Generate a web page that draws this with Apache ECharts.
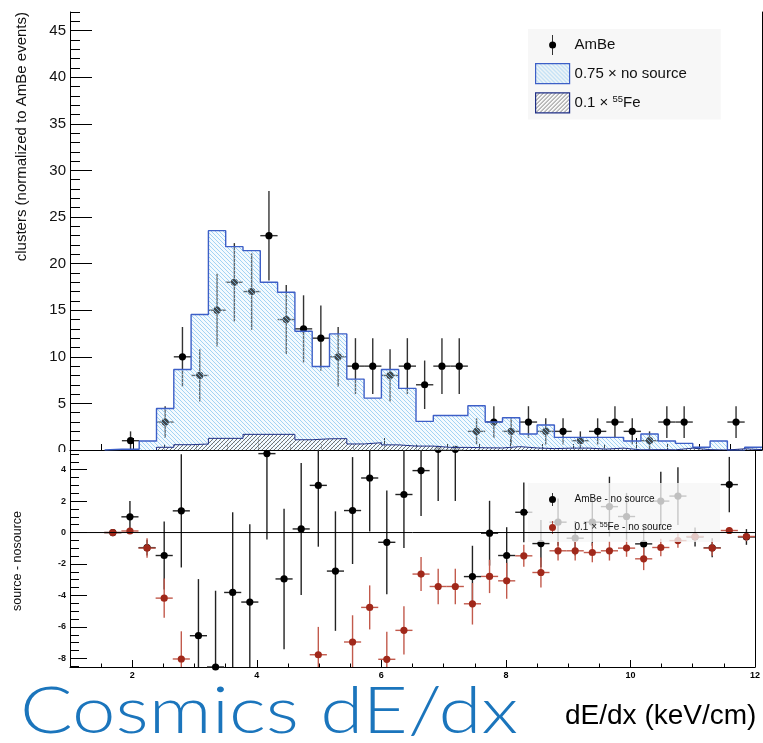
<!DOCTYPE html>
<html>
<head>
<meta charset="utf-8">
<script src="https://cdn.jsdelivr.net/npm/echarts@6/dist/echarts.min.js"></script>
<style>
  html, body { margin: 0; padding: 0; background: #fff; }
  #chart { width: 763px; height: 743px; }
</style>
</head>
<body>
<div id="chart"></div>
<script>
// ---- binning: 40 uniform bins in dE/dx (keV/cm) ----
const X_MIN = 1, X_MAX = 12, N_BINS = 40;
const binWidth = (X_MAX - X_MIN) / N_BINS;
const binCenters = Array.from({ length: N_BINS }, (_, i) => X_MIN + (i + 0.5) * binWidth);
const binEdges = Array.from({ length: N_BINS + 1 }, (_, k) => X_MIN + k * binWidth);

// ---- upper panel: cluster counts per bin ----
const ambeCounts = [null, null, null, 1, null, 3, 10, 8, 15, 18, 17, 23, 14, 13, 12, 10, 9, 9, 8, 9,
  7, 9, 9, 2, 3, 2, 3, 2, 2, 1, 2, 3, 2, 1, 3, 3, null, null, 3, null];
const ambeErrors = [null, null, null, 1.0, null, 1.7, 3.2, 2.8, 3.9, 4.2, 4.1, 4.8, 3.7, 3.6, 3.5, 3.2, 3.0, 3.0, 2.8, 3.0,
  2.6, 3.0, 3.0, 1.4, 1.7, 1.4, 1.7, 1.4, 1.4, 1.0, 1.4, 1.7, 1.4, 1.0, 1.7, 1.7, null, null, 1.7, null];
const noSourceScaled = [null, null, 0.08, 0.08, 0.96, 4.46, 8.64, 14.54, 23.54, 21.82, 21.39, 18.0, 16.93, 12.75, 8.96, 12.46, 7.61, 5.57, 8.64, 6.61,
  3.07, 3.71, 3.71, 4.75, 3.0, 3.46, 1.71, 2.68, 1.36, 1.36, 1.36, 1.36, 0.96, 1.71, 0.96, 0.71, 0.29, 0.96, 0, 0.29];
const fe55Scaled = [null, null, null, null, null, 0.29, 0.57, 0.64, 1.25, 1.25, 1.68, 1.68, 1.68, 1.1, 1.2, 1.22, 0.65, 0.78, 0.55, 0.42,
  0.42, 0.28, 0.28, 0.24, 0.22, 0.36, 0.22, 0.15, 0.2, 0.2, 0.1, 0.2, 0.02, 0.04, 0.02, 0.2, 0.04, 0, 0.13, 0.04];

// ---- lower panel: differences to the no-source sample ----
const ambeMinusNoSource = [null, null, 0, 1.0, -0.96, -1.46, 1.38, -6.56, -8.55, -3.81, -4.42, 5.02, -2.95, 0.23, 3.0, -2.45, 1.4, 3.47, -0.62, 2.42,
  3.94, 5.29, 5.29, -2.8, -0.04, -1.46, 1.29, -0.7, 0.66, -0.36, 0.66, 1.65, 1.02, -0.72, 2.0, 2.32, -0.28, -0.97, 3.05, -0.28];
const ambeMinusNoSourceErr = [null, null, 0.1, 1.0, 0.5, 2.16, 3.6, 3.6, 4.85, 5.1, 4.95, 5.46, 4.47, 4.2, 3.9, 3.8, 3.4, 3.4, 3.3, 3.4,
  2.88, 3.28, 3.28, 1.96, 2.06, 1.8, 1.9, 1.5, 1.5, 1.1, 1.5, 1.9, 1.5, 1.1, 1.86, 1.84, 0.6, 0.6, 1.76, 0.5];
const feMinusNoSource = [null, null, 0, 0.1, -0.99, -4.17, -8.04, null, null, null, null, null, null, null, -7.77, null, -6.96, -4.76, -8.06, -6.22,
  -2.64, -3.43, -3.43, -4.53, -2.79, -3.07, -1.48, -2.54, -1.16, -1.16, -1.27, -1.16, -0.99, -1.67, -0.95, -0.51, -0.25, -0.99, 0.13, -0.25];
const feMinusNoSourceErr = [null, null, 0.05, 0.08, 0.62, 1.25, 1.76, null, null, null, null, null, null, null, 1.77, null, 1.7, 1.4, 1.75, 1.53,
  1.08, 1.13, 1.13, 1.32, 1.06, 1.14, 0.7, 0.95, 0.62, 0.62, 0.62, 0.62, 0.55, 0.72, 0.55, 0.45, 0.3, 0.48, 0.1, 0.3];

// ---- axis ranges and tick labels ----
const TOP_Y_MIN = 0, TOP_Y_MAX = 47;
const BOT_Y_MIN = -8.55, BOT_Y_MAX = 5.25;
const xTickLabels = [2, 4, 6, 8, 10, 12];
const topYTickLabels = [0, 5, 10, 15, 20, 25, 30, 35, 40, 45];
const botYTickLabels = [-8, -6, -4, -2, 0, 2, 4];

// minor tick values between the labelled ones
function minorTicks(lo, hi, step, majors) {
  const out = [];
  for (let v = Math.ceil(lo / step) * step; v <= hi + 1e-9; v += step) {
    const r = Math.round(v * 1000) / 1000;
    if (r > lo && r <= hi && !majors.includes(r)) out.push(r);
  }
  return out;
}

// diagonal hatch fill for the histograms
function hatch(dir, s, lineColor, bgColor, lw) {
  const c = document.createElement('canvas');
  c.width = c.height = s;
  const g = c.getContext('2d');
  if (bgColor) { g.fillStyle = bgColor; g.fillRect(0, 0, s, s); }
  g.strokeStyle = lineColor; g.lineWidth = lw;
  g.beginPath();
  for (let k = -1; k <= 1; k++) {
    if (dir === 'down') { g.moveTo(-1, -1 + k * s); g.lineTo(s + 1, s + 1 + k * s); }
    else { g.moveTo(-1, s + 1 + k * s); g.lineTo(s + 1, -1 + k * s); }
  }
  g.stroke();
  return { image: c, repeat: 'repeat' };
}
const blueHatch = hatch('down', 4, 'rgba(135,198,240,0.75)', 'rgba(220,240,253,0.3)', 1);
const grayHatch = hatch('up', 4, 'rgba(80,80,80,0.8)', 'rgba(255,255,255,0.55)', 1);

// step histogram from per-bin contents
function histData(values) {
  const pts = [];
  const first = values.findIndex(v => v != null);
  pts.push([binEdges[first], 0]);
  for (let i = first; i < N_BINS; i++) pts.push([binEdges[i], values[i] == null ? 0 : values[i]]);
  pts.push([binEdges[N_BINS], values[N_BINS - 1] == null ? 0 : values[N_BINS - 1]]);
  return pts;
}

// markers with vertical (statistical) and horizontal (bin width) error bars
function errorPoints(name, axisIndex, values, errors, yLo, yHi, markerColor, barColor, z) {
  const data = [];
  values.forEach((v, i) => { if (v != null) data.push([binCenters[i], v, errors[i]]); });
  return {
    type: 'custom', name, xAxisIndex: axisIndex, yAxisIndex: axisIndex, z,
    itemStyle: { color: markerColor },
    encode: { x: 0, y: 1 },
    data,
    renderItem(params, api) {
      const x = api.value(0), y = api.value(1), e = api.value(2);
      const cl = v => Math.max(yLo, Math.min(yHi, v));
      const top = api.coord([x, cl(y + e)]), bot = api.coord([x, cl(y - e)]);
      const l = api.coord([x - binWidth / 2, cl(y)]), r = api.coord([x + binWidth / 2, cl(y)]);
      const p = api.coord([x, y]);
      return {
        type: 'group',
        children: [
          { type: 'line', shape: { x1: top[0], y1: top[1], x2: bot[0], y2: bot[1] }, style: { stroke: barColor, lineWidth: 1.4 } },
          { type: 'line', shape: { x1: l[0], y1: l[1], x2: r[0], y2: r[1] }, style: { stroke: barColor, lineWidth: 1.4 } },
          { type: 'circle', shape: { cx: p[0], cy: p[1], r: 3.6 }, style: { fill: markerColor } }
        ]
      };
    }
  };
}

const FONT = 'Liberation Sans, Arial, sans-serif';
const ICON_TALL = 'path://M3.6,0L4.4,0L4.4,6.4L3.6,6.4Z M3.6,13.6L4.4,13.6L4.4,20L3.6,20Z M0.5,10A3.5,3.5,0,1,1,7.5,10A3.5,3.5,0,1,1,0.5,10Z';
const ICON_SHORT = 'path://M3.6,0L4.4,0L4.4,3L3.6,3Z M3.6,10L4.4,10L4.4,13L3.6,13Z M0.5,6.5A3.5,3.5,0,1,1,7.5,6.5A3.5,3.5,0,1,1,0.5,6.5Z';
const supFormatter = name => name.replace('55Fe', '{sup|55}Fe');
const frameLine = { show: true, onZero: false, lineStyle: { color: '#000', width: 1 } };

function xAxes(gridIndex, majorLen, minorLen, showLabels) {
  const base = { type: 'value', gridIndex, min: X_MIN, max: X_MAX, position: 'bottom', offset: 0,
    axisLine: { show: false, onZero: false }, splitLine: { show: false } };
  return [
    Object.assign({}, base, {
      axisLine: frameLine,
      axisTick: { show: true, inside: true, length: majorLen, customValues: xTickLabels, lineStyle: { color: '#000' } },
      axisLabel: { show: showLabels, customValues: xTickLabels, fontSize: 9, fontWeight: 'bold', fontFamily: FONT, color: '#000',
        margin: 4, alignMaxLabel: 'center', alignMinLabel: 'center' }
    }),
    Object.assign({}, base, {
      axisTick: { show: true, inside: true, length: minorLen, customValues: minorTicks(X_MIN, X_MAX, 0.5, xTickLabels).filter(v => v < X_MAX), lineStyle: { color: '#000' } },
      axisLabel: { show: false }
    })
  ];
}
function yAxes(gridIndex, lo, hi, majors, minorStep, majorLen, minorLen, labelStyle) {
  const base = { type: 'value', gridIndex, min: lo, max: hi, position: 'left', offset: 0,
    axisLine: { show: false, onZero: false }, splitLine: { show: false } };
  return [
    Object.assign({}, base, {
      axisLine: frameLine,
      axisTick: { show: true, inside: true, length: majorLen, customValues: majors, lineStyle: { color: '#000' } },
      axisLabel: Object.assign({ customValues: majors, fontFamily: FONT, color: '#111' }, labelStyle)
    }),
    Object.assign({}, base, {
      axisTick: { show: true, inside: true, length: minorLen, customValues: minorTicks(lo, hi, minorStep, majors), lineStyle: { color: '#000' } },
      axisLabel: { show: false }
    }),
    // right-hand frame edge
    Object.assign({}, base, { position: 'right', axisLine: frameLine, axisTick: { show: false }, axisLabel: { show: false } })
  ];
}

const chart = echarts.init(document.getElementById('chart'), null, { renderer: 'canvas' });
chart.setOption({
  animation: false,
  backgroundColor: '#fff',
  grid: [
    { left: 70, top: 12, width: 692, height: 438 },
    { left: 70, top: 450, width: 692, height: 217 }
  ],
  xAxis: [...xAxes(0, 12, 6, false), ...xAxes(1, 7, 3.5, true)],
  yAxis: [
    ...yAxes(0, TOP_Y_MIN, TOP_Y_MAX, topYTickLabels, 1, 22, 10, { fontSize: 15, margin: 4 }),
    ...yAxes(1, BOT_Y_MIN, BOT_Y_MAX, botYTickLabels, 0.5, 17, 9, { fontSize: 9, fontWeight: 'bold', margin: 4 })
  ],
  legend: [
    {
      orient: 'vertical', align: 'left', left: 528, top: 29, padding: [6, 34, 6, 7], itemGap: 8, itemWidth: 34, itemHeight: 20,
      backgroundColor: '#f7f7f7', selectedMode: false, formatter: supFormatter,
      textStyle: { fontSize: 15, fontFamily: FONT, color: '#111', rich: { sup: { fontSize: 9.5, fontFamily: FONT, padding: [0, 0, 7, 0] } } },
      data: [
        { name: 'AmBe', icon: ICON_TALL, itemStyle: { color: '#000' } },
        { name: '0.75 × no source', icon: 'rect', itemStyle: { color: blueHatch, borderColor: '#3d5fc7', borderWidth: 1.2 } },
        { name: '0.1 × 55Fe', icon: 'rect', itemStyle: { color: grayHatch, borderColor: '#1f2f86', borderWidth: 1.2 } }
      ]
    },
    {
      // the narrow marker icons leave an empty strip at the left of each item, so the left padding is wider
      orient: 'vertical', align: 'left', left: 528, top: 483, padding: [10, 48, 8, 21], itemGap: 15, itemWidth: 34, itemHeight: 13,
      backgroundColor: 'rgba(246,246,246,0.78)', selectedMode: false, formatter: supFormatter,
      textStyle: { fontSize: 10, fontFamily: FONT, color: '#111', rich: { sup: { fontSize: 7, fontFamily: FONT, padding: [0, 0, 5, 0] } } },
      data: [
        { name: 'AmBe - no source', icon: ICON_SHORT, itemStyle: { color: '#000' } },
        { name: '0.1 × 55Fe - no source', icon: ICON_SHORT, itemStyle: { color: '#a0281a' } }
      ]
    }
  ],
  series: [
    errorPoints('AmBe', 0, ambeCounts, ambeErrors, TOP_Y_MIN, TOP_Y_MAX, '#000', '#333', 2),
    {
      type: 'line', name: '0.75 × no source', xAxisIndex: 0, yAxisIndex: 0, step: 'end', z: 3,
      data: histData(noSourceScaled), showSymbol: false, symbol: 'none', silent: true,
      lineStyle: { color: '#3d5fc7', width: 1.4 }, itemStyle: { color: '#3d5fc7' },
      areaStyle: { color: blueHatch, opacity: 1 }
    },
    {
      type: 'line', name: '0.1 × 55Fe', xAxisIndex: 0, yAxisIndex: 0, step: 'end', z: 4,
      data: histData(fe55Scaled), showSymbol: false, symbol: 'none', silent: true,
      lineStyle: { color: '#1f2f86', width: 1 }, itemStyle: { color: '#1f2f86' },
      areaStyle: { color: grayHatch, opacity: 1 }
    },
    errorPoints('AmBe - no source', 3, ambeMinusNoSource, ambeMinusNoSourceErr, BOT_Y_MIN, BOT_Y_MAX, '#000', '#222', 2),
    errorPoints('0.1 × 55Fe - no source', 3, feMinusNoSource, feMinusNoSourceErr, BOT_Y_MIN, BOT_Y_MAX, '#a0281a', '#c25a4c', 3),
    {
      type: 'line', xAxisIndex: 2, yAxisIndex: 3, z: 10, silent: true, symbol: 'none',
      data: [[X_MIN, 0], [X_MAX, 0]], lineStyle: { color: '#000', width: 1 }
    }
  ],
  graphic: [
    // the lower pad hides the lower half of the upper pad's "0" label
    { type: 'rect', left: 0, top: 452, shape: { width: 68, height: 10 }, style: { fill: '#fff' }, z: 100 },
    { type: 'text', x: 22, y: 12, rotation: Math.PI / 2, z: 100,
      style: { text: 'clusters (normalized to AmBe events)', font: '15px ' + FONT, fill: '#111', align: 'right', verticalAlign: 'middle' } },
    { type: 'text', x: 18, y: 561, rotation: Math.PI / 2, z: 100,
      style: { text: 'source - nosource', font: '12.5px ' + FONT, fill: '#111', align: 'center', verticalAlign: 'middle' } },
    { type: 'text', x: 20, y: 712, scaleX: 1.183, z: 100,
      style: { text: 'Cosmics dE/dx', font: '300 66px Lato, sans-serif', fill: '#1b75bc', align: 'left', verticalAlign: 'middle' } },
    { type: 'text', x: 565, y: 716, z: 100,
      style: { text: 'dE/dx (keV/cm)', font: '28px ' + FONT, fill: '#000', align: 'left', verticalAlign: 'middle' } }
  ]
});
</script>
</body>
</html>
